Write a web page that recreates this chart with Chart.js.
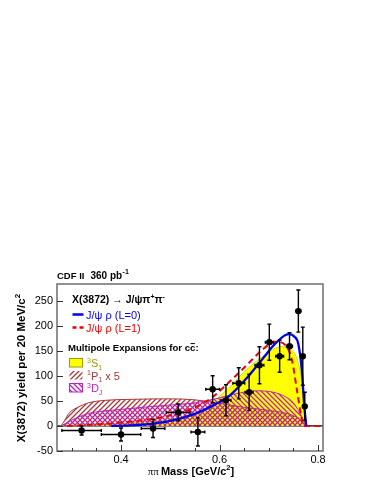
<!DOCTYPE html>
<html>
<head>
<meta charset="utf-8">
<script src="https://cdn.jsdelivr.net/npm/chart.js@4.4.0/dist/chart.umd.min.js"></script>
<style>
  html, body { margin: 0; padding: 0; background: #fff; }
  canvas { display: block; }
</style>
</head>
<body>
<canvas id="cdfChart" width="374" height="484"></canvas>
<script>
// data points (pi pi mass, yield per 20 MeV)
const massPoints  = [0.320, 0.400, 0.465, 0.516, 0.556, 0.586, 0.613, 0.639, 0.660, 0.681, 0.701, 0.722, 0.742, 0.760, 0.769, 0.773];
const yieldPoints = [-9, -17, -5, 27, -12, 73, 51, 85, 67, 121, 167, 139, 159, 229, 139, 39];
const massErrors  = [0.040, 0.040, 0.024, 0.024, 0.014, 0.014, 0.010, 0.012, 0.008, 0.009, 0.008, 0.008, 0.006, 0.005, 0.003, 0.002];
const yieldErrors = [9, 13, 18, 17, 28, 27, 31, 31, 36, 37, 36, 32, 27, 42, 58, 28];

// J/psi rho fits
const fitMassL0  = [0.38, 0.42, 0.45, 0.50, 0.55, 0.585, 0.62, 0.652, 0.686, 0.715, 0.74, 0.752, 0.760, 0.767, 0.772, 0.776];
const fitYieldL0 = [0, 1, 3, 10, 24, 40, 60, 92, 132, 166, 183, 178, 163, 111, 40, 0];
const fitMassL1  = [0.29, 0.35, 0.40, 0.45, 0.50, 0.55, 0.585, 0.62, 0.652, 0.686, 0.713, 0.734, 0.747, 0.757, 0.766, 0.770, 0.805];
const fitYieldL1 = [0, 3, 7, 12, 21, 37, 57, 88, 118, 151, 168, 161, 131, 72, 18, 0, 0];

// multipole expansions for c cbar
const s1Mass  = [0.275, 0.35, 0.40, 0.45, 0.50, 0.55, 0.57, 0.59, 0.62, 0.65, 0.69, 0.713, 0.727, 0.747, 0.760, 0.767, 0.774, 0.777];
const s1Yield = [0, 3, 5, 8, 13, 25, 34, 50, 77, 108, 140, 155, 158, 151, 125, 85, 12, 0];
const p1Mass  = [0.278, 0.285, 0.294, 0.314, 0.334, 0.368, 0.42, 0.50, 0.55, 0.60, 0.65, 0.70, 0.74, 0.76, 0.77, 0.776];
const p1Yield = [0, 10, 25, 38, 46, 51, 53, 54, 52, 45, 37, 31, 24, 15, 6, 0];
const djMass  = [0.278, 0.307, 0.334, 0.40, 0.49, 0.55, 0.60, 0.632, 0.673, 0.71, 0.734, 0.75, 0.76, 0.77, 0.776];
const djYield = [0, 15, 25, 33, 41, 46, 56, 64, 70, 67, 58, 46, 31, 12, 0];

// axes
const xTickValues  = [0.30, 0.35, 0.40, 0.45, 0.50, 0.55, 0.60, 0.65, 0.70, 0.75, 0.80];
const xLabelValues = [0.4, 0.6, 0.8];
const yTickValues  = [-50, 0, 50, 100, 150, 200, 250];

const FONT = '"Liberation Sans", Arial, Helvetica, sans-serif';
const BLUE = '#0000ee';
const RED = '#ee0000';
const BROWN = '#a8383a';
const MAGENTA = '#c21fc2';
const OLIVE = '#9c9c00';

function toXY(xs, ys) {
    return xs.map((v, i) => ({ x: v, y: ys[i] }));
}

function makeHatch(color, forward) {
    const s = 5;
    const c = document.createElement('canvas');
    c.width = s; c.height = s;
    const g = c.getContext('2d');
    g.strokeStyle = color;
    g.lineWidth = 1.3;
    g.beginPath();
    if (forward) {
        g.moveTo(0, s); g.lineTo(s, 0);
        g.moveTo(-1, 1); g.lineTo(1, -1);
        g.moveTo(s - 1, s + 1); g.lineTo(s + 1, s - 1);
    } else {
        g.moveTo(0, 0); g.lineTo(s, s);
        g.moveTo(-1, s - 1); g.lineTo(1, s + 1);
        g.moveTo(s - 1, -1); g.lineTo(s + 1, 1);
    }
    g.stroke();
    return g.createPattern(c, 'repeat');
}

const p1Hatch = makeHatch(BROWN, true);
const djHatch = makeHatch(MAGENTA, false);

/*
    Draws a run of text pieces (for superscripts / subscripts), returns end x.
*/
function richText(ctx, x, y, parts, measureOnly) {
    let cx = x;
    for (const p of parts) {
        ctx.font = (p.bold ? 'bold ' : '') + p.size + 'px ' + (p.family || FONT);
        const w = ctx.measureText(p.t).width;
        if (!measureOnly) {
            ctx.fillStyle = p.color || '#000';
            ctx.fillText(p.t, cx, y + (p.dy || 0));
            if (p.overline) {
                ctx.strokeStyle = p.color || '#000';
                ctx.lineWidth = 1;
                ctx.beginPath();
                ctx.moveTo(cx + 0.5, y - p.size * 0.72);
                ctx.lineTo(cx + w - 0.5, y - p.size * 0.72);
                ctx.stroke();
            }
        }
        cx += w + (p.gap || 0);
    }
    return cx;
}

const cdfDecorations = {
    id: 'cdfDecorations',
    beforeDatasetsDraw(chart) {
        const { ctx, chartArea: a, scales: { y } } = chart;
        const y0 = y.getPixelForValue(0);
        ctx.save();
        ctx.strokeStyle = '#000';
        ctx.lineWidth = 1.3;
        ctx.beginPath();
        ctx.moveTo(a.left, y0);
        ctx.lineTo(a.right, y0);
        ctx.stroke();
        ctx.restore();
    },
    afterDatasetsDraw(chart) {
        // error bars on the data points
        const { ctx, scales: { x, y } } = chart;
        ctx.save();
        ctx.strokeStyle = '#000';
        ctx.lineWidth = 1.4;
        for (let i = 0; i < massPoints.length; i++) {
            const px = x.getPixelForValue(massPoints[i]);
            const py = y.getPixelForValue(yieldPoints[i]);
            const x1 = x.getPixelForValue(massPoints[i] - massErrors[i]);
            const x2 = x.getPixelForValue(massPoints[i] + massErrors[i]);
            const y1 = y.getPixelForValue(yieldPoints[i] - yieldErrors[i]);
            const y2 = y.getPixelForValue(yieldPoints[i] + yieldErrors[i]);
            ctx.beginPath();
            ctx.moveTo(x1, py); ctx.lineTo(x2, py);
            ctx.moveTo(x1, py - 1.5); ctx.lineTo(x1, py + 1.5);
            ctx.moveTo(x2, py - 1.5); ctx.lineTo(x2, py + 1.5);
            ctx.moveTo(px, y1); ctx.lineTo(px, y2);
            ctx.moveTo(px - 2, y1); ctx.lineTo(px + 2, y1);
            ctx.moveTo(px - 2, y2); ctx.lineTo(px + 2, y2);
            ctx.stroke();
        }
        ctx.restore();
    },
    afterDraw(chart) {
        const { ctx, chartArea: a, scales: { x, y } } = chart;
        ctx.save();

        // frame
        ctx.strokeStyle = '#6e6e6e';
        ctx.lineWidth = 1.5;
        ctx.strokeRect(a.left, a.top, a.right - a.left, a.bottom - a.top);

        // ticks pointing inside the frame
        ctx.strokeStyle = '#333';
        ctx.lineWidth = 1;
        ctx.beginPath();
        xTickValues.forEach(v => {
            const px = Math.round(x.getPixelForValue(v)) + 0.5;
            const major = xLabelValues.some(l => Math.abs(l - v) < 1e-6);
            ctx.moveTo(px, a.bottom);
            ctx.lineTo(px, a.bottom - (major ? 6 : 3));
        });
        yTickValues.forEach(v => {
            const py = Math.round(y.getPixelForValue(v)) + 0.5;
            ctx.moveTo(a.left, py);
            ctx.lineTo(a.left + 6, py);
        });
        ctx.stroke();

        ctx.textBaseline = 'alphabetic';
        ctx.textAlign = 'left';

        // header
        let ex = richText(ctx, 57, 279, [
            { t: 'CDF II', size: 9.5, bold: true, gap: 6 },
            { t: '360 pb', size: 10, bold: true }
        ]);
        richText(ctx, ex + 0.5, 273.5, [{ t: '-1', size: 7, bold: true }]);

        // decay label
        richText(ctx, 72, 302.5, [
            { t: 'X(3872) ', size: 10.5, bold: true },
            { t: '\u2192', size: 10.5 },
            { t: ' J/\u03c8\u03c0', size: 10.5, bold: true },
            { t: '+', size: 7, bold: true, dy: -4 },
            { t: '\u03c0', size: 10.5, bold: true },
            { t: '-', size: 7, bold: true, dy: -4 }
        ]);

        // fit legend
        ctx.lineWidth = 2.5;
        ctx.strokeStyle = BLUE;
        ctx.beginPath(); ctx.moveTo(72.5, 314.5); ctx.lineTo(83.5, 314.5); ctx.stroke();
        ctx.strokeStyle = RED;
        ctx.setLineDash([4, 3]);
        ctx.beginPath(); ctx.moveTo(72.5, 327.5); ctx.lineTo(83.5, 327.5); ctx.stroke();
        ctx.setLineDash([]);
        richText(ctx, 86, 318.5, [{ t: 'J/\u03c8 \u03c1 (L=0)', size: 11, color: BLUE }]);
        richText(ctx, 86, 331.5, [{ t: 'J/\u03c8 \u03c1 (L=1)', size: 11, color: RED }]);

        // multipole legend
        richText(ctx, 68, 350.5, [
            { t: 'Multipole Expansions for c', size: 9.6, bold: true },
            { t: 'c', size: 9.6, bold: true, overline: true },
            { t: ':', size: 9.6, bold: true }
        ]);

        const boxes = [
            { top: 358.5, fill: '#ffff00', stroke: OLIVE },
            { top: 371, fill: p1Hatch, stroke: null },
            { top: 383.5, fill: djHatch, stroke: MAGENTA }
        ];
        boxes.forEach(b => {
            ctx.fillStyle = b.fill;
            ctx.fillRect(69.5, b.top, 13, 8.5);
            if (b.stroke) {
                ctx.strokeStyle = b.stroke;
                ctx.lineWidth = 1;
                ctx.strokeRect(69.5, b.top, 13, 8.5);
            }
        });
        richText(ctx, 87, 367, [
            { t: '3', size: 7, color: OLIVE, dy: -4.5 },
            { t: 'S', size: 11, color: OLIVE },
            { t: '1', size: 7, color: OLIVE, dy: 2.5 }
        ]);
        richText(ctx, 87, 379.5, [
            { t: '1', size: 7, color: BROWN, dy: -4.5 },
            { t: 'P', size: 11, color: BROWN },
            { t: '1', size: 7, color: BROWN, dy: 2.5 },
            { t: ' x 5', size: 11, color: BROWN }
        ]);
        richText(ctx, 87, 392, [
            { t: '3', size: 7, color: MAGENTA, dy: -4.5 },
            { t: 'D', size: 11, color: MAGENTA },
            { t: 'J', size: 7, color: MAGENTA, dy: 2.5 }
        ]);

        // x axis title
        const xParts = [
            { t: '\u03c0\u03c0', size: 11, family: '"Liberation Serif", serif', gap: 2 },
            { t: 'Mass [GeV/c', size: 11, bold: true },
            { t: '2', size: 7.5, bold: true, dy: -5 },
            { t: ']', size: 11, bold: true }
        ];
        const xw = richText(ctx, 0, 0, xParts, true);
        richText(ctx, 191 - xw / 2, 475, xParts);

        // y axis title
        const yParts = [
            { t: 'X(3872) yield per 20 MeV/c', size: 11.5, bold: true },
            { t: '2', size: 8, bold: true, dy: -5 }
        ];
        const yw = richText(ctx, 0, 0, yParts, true);
        ctx.translate(24.5, 368);
        ctx.rotate(-Math.PI / 2);
        richText(ctx, -yw / 2, 0, yParts);

        ctx.restore();
    }
};

const ctx = document.getElementById('cdfChart').getContext('2d');
const cdfChart = new Chart(ctx, {
    type: 'line',
    data: {
        datasets: [
            {
                type: 'scatter',
                label: 'data',
                data: toXY(massPoints, yieldPoints),
                pointRadius: 3.2,
                pointBackgroundColor: '#000',
                pointBorderWidth: 0,
                order: 0
            },
            {
                label: 'J/psi rho (L=0)',
                data: toXY(fitMassL0, fitYieldL0),
                borderColor: BLUE,
                borderWidth: 2.3,
                pointRadius: 0,
                fill: false,
                cubicInterpolationMode: 'monotone',
                order: 1
            },
            {
                label: 'J/psi rho (L=1)',
                data: toXY(fitMassL1, fitYieldL1),
                borderColor: RED,
                borderWidth: 2,
                borderDash: [6, 4],
                pointRadius: 0,
                fill: false,
                cubicInterpolationMode: 'monotone',
                order: 2
            },
            {
                label: '3DJ',
                data: toXY(djMass, djYield),
                borderColor: MAGENTA,
                borderWidth: 1,
                backgroundColor: djHatch,
                pointRadius: 0,
                fill: 'origin',
                cubicInterpolationMode: 'monotone',
                order: 3
            },
            {
                label: '1P1 x 5',
                data: toXY(p1Mass, p1Yield),
                borderColor: BROWN,
                borderWidth: 1,
                backgroundColor: p1Hatch,
                pointRadius: 0,
                fill: 'origin',
                cubicInterpolationMode: 'monotone',
                order: 4
            },
            {
                label: '3S1',
                data: toXY(s1Mass, s1Yield),
                borderColor: '#d6d600',
                borderWidth: 1,
                backgroundColor: '#ffff00',
                pointRadius: 0,
                fill: 'origin',
                cubicInterpolationMode: 'monotone',
                order: 5
            }
        ]
    },
    options: {
        responsive: false,
        animation: false,
        devicePixelRatio: 1,
        layout: { padding: { left: 0, right: 51, top: 284, bottom: 0 } },
        scales: {
            x: {
                type: 'linear',
                min: 0.27,
                max: 0.81,
                afterFit: (scale) => { scale.height = 33; },
                afterBuildTicks: (scale) => { scale.ticks = xTickValues.map(v => ({ value: v })); },
                grid: { display: false, drawTicks: false },
                border: { display: false },
                ticks: {
                    autoSkip: false,
                    maxRotation: 0,
                    padding: 2,
                    color: '#000',
                    font: { family: FONT, size: 11 },
                    callback: (v) => xLabelValues.some(l => Math.abs(l - v) < 1e-6) ? Number(v).toFixed(1) : ''
                }
            },
            y: {
                type: 'linear',
                min: -50,
                max: 283,
                afterFit: (scale) => { scale.width = 57; },
                afterBuildTicks: (scale) => { scale.ticks = yTickValues.map(v => ({ value: v })); },
                grid: { display: false, drawTicks: false },
                border: { display: false },
                ticks: {
                    padding: 4,
                    color: '#000',
                    font: { family: FONT, size: 11 },
                    callback: (v) => String(v)
                }
            }
        },
        plugins: {
            legend: { display: false },
            tooltip: { enabled: false }
        }
    },
    plugins: [cdfDecorations]
});
</script>
</body>
</html>
